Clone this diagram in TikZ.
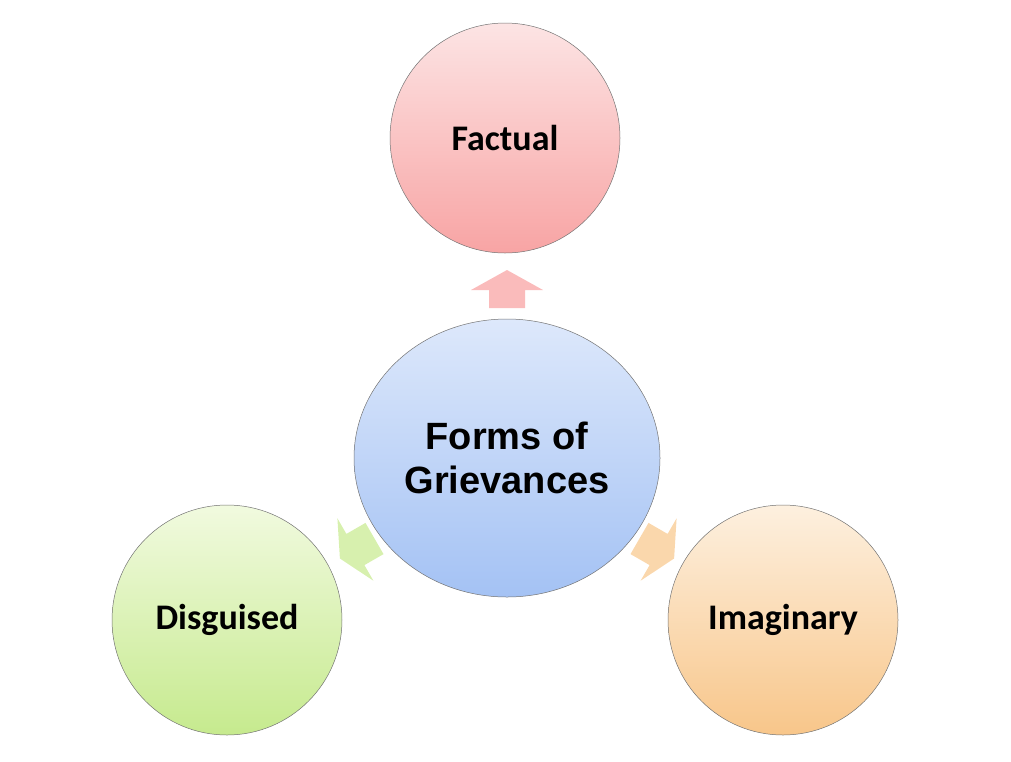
\documentclass[tikz,border=0pt]{standalone}
\usepackage{fontspec}
\setmainfont{Carlito}
\newfontfamily\hdfont{Liberation Sans}
\usetikzlibrary{shapes.geometric}
\begin{document}
\begin{tikzpicture}[x=1pt,y=-1pt,
  bub/.style={ellipse,draw=black!55,line width=0.5pt,font=\bfseries\fontsize{36}{40}\selectfont,align=center}]
\useasboundingbox (0,0) rectangle (1011,761);
\definecolor{pT}{HTML}{FCE4E4}\definecolor{pB}{HTML}{F8A4A4}
\definecolor{bT}{HTML}{DDE8FB}\definecolor{bB}{HTML}{A4C2F4}
\definecolor{gT}{HTML}{F1FADF}\definecolor{gB}{HTML}{C6EA8E}
\definecolor{oT}{HTML}{FDF0DF}\definecolor{oB}{HTML}{F8C68A}
\node[bub,minimum width=230,minimum height=230,top color=pT,bottom color=pB] (fac) at (505,138) {Factual};
\node[bub,minimum width=306,minimum height=278,top color=bT,bottom color=bB,font=\hdfont\bfseries\fontsize{38}{44}\selectfont] (cen) at (507,458) {Forms of\\Grievances};
\node[bub,minimum width=230,minimum height=230,top color=gT,bottom color=gB] (dis) at (227,620) {Disguised};
\node[bub,minimum width=230,minimum height=230,top color=oT,bottom color=oB] (ima) at (783,620) {Imaginary};
\fill[pB!75] (489,308)--(489,290)--(471,290)--(507,270)--(543,290)--(525,290)--(525,308)--cycle;
\fill[gT!40!gB] (365.5,522.9)--(383.5,554.1)--(364.4,565.1)--(373.4,580.7)--(339.9,558.5)--(337.4,518.3)--(346.4,533.9)--cycle;
\fill[oT!40!oB] (648.5,522.9)--(630.5,554.1)--(649.6,565.1)--(640.6,580.7)--(674.1,558.5)--(676.6,518.3)--(667.6,533.9)--cycle;
\end{tikzpicture}
\end{document}
